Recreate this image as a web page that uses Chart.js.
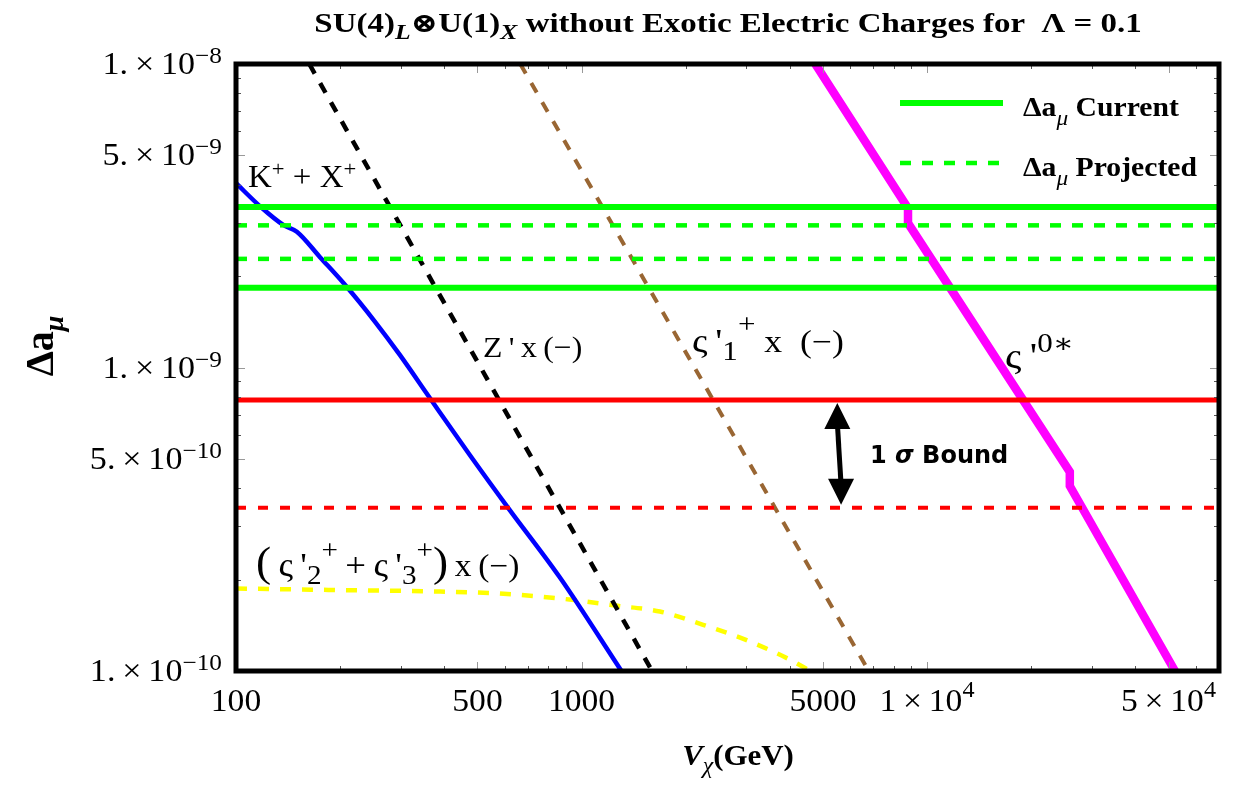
<!DOCTYPE html>
<html>
<head>
<meta charset="utf-8">
<script src="https://cdn.jsdelivr.net/npm/chart.js@4.4.0/dist/chart.umd.min.js"></script>
<style>
  html, body { margin: 0; padding: 0; background: #fff; }
  #wrap { width: 1233px; height: 803px; }
</style>
</head>
<body>
<div id="wrap"><canvas id="chart" width="1233" height="803"></canvas></div>
<script>
// axes ranges and ticks
const xRange = [100, 70000];
const yRange = [1e-10, 1e-8];
const xMajorTicks = [100, 500, 1000, 5000, 10000, 50000];
const xTickLabels = [["100"], ["500"], ["1000"], ["5000"], ["1\u2009×\u200910", "4"], ["5\u2009×\u200910", "4"]];
const xMinorTicks = [200, 300, 400, 600, 700, 800, 900, 2000, 3000, 4000, 6000, 7000, 8000, 9000,
  20000, 30000, 40000, 60000, 70000];
const yMajorTicks = [1e-8, 5e-9, 1e-9, 5e-10, 1e-10];
const yTickLabels = [["1.\u2009×\u200910", "−8"], ["5.\u2009×\u200910", "−9"], ["1.\u2009×\u200910", "−9"],
  ["5.\u2009×\u200910", "−10"], ["1.\u2009×\u200910", "−10"]];
const yMinorTicks = [2e-10, 3e-10, 4e-10, 6e-10, 7e-10, 8e-10, 9e-10, 2e-9, 3e-9, 4e-9, 6e-9, 7e-9, 8e-9, 9e-9];

// horizontal bands (Δa_μ)
const currentBand = [3.38e-9, 1.83e-9];
const projectedBand = [2.94e-9, 2.28e-9];
const sigmaSolid = 7.82e-10;
const sigmaDashed = 3.45e-10;

// K+ + X+ (blue)
const kxV = [100, 118, 137, 150, 175, 207, 252, 298, 364, 475, 620, 864, 1305];
const kxA = [4.05e-9, 3.38e-9, 2.95e-9, 2.80e-9, 2.31e-9, 1.87e-9, 1.42e-9, 1.10e-9, 7.93e-10, 5.15e-10,
  3.39e-10, 2.04e-10, 1.0e-10];
// Z' x(-) (black dashed)
const zV = [163, 1600];
const zA = [1e-8, 1e-10];
// ς'1+ x(-) (brown dashed)
const s1V = [665, 6780];
const s1A = [1e-8, 1e-10];
// ς'0* (magenta)
const s0V = [4750, 8810, 8810, 25900, 25900, 52200];
const s0A = [1e-8, 3.35e-9, 2.99e-9, 4.53e-10, 4.07e-10, 1e-10];
// (ς'2+ + ς'3+) x(-) (yellow dashed)
const s23V = [100, 185, 361, 578, 923, 1273, 1687, 2248, 3021, 3945, 4603];
const s23A = [1.87e-10, 1.85e-10, 1.83e-10, 1.80e-10, 1.72e-10, 1.64e-10, 1.57e-10, 1.42e-10, 1.26e-10, 1.10e-10, 1.0e-10];

// arrow of the 1σ bound
const arrowV = [5500, 5640];

const SERIF = '"Liberation Serif", "DejaVu Serif", serif';
const SANS = '"DejaVu Sans", sans-serif';
function f(size, bold, italic, fam) {
  return (italic ? "italic " : "") + (bold ? "bold " : "") + size + "px " + (fam || SERIF);
}
function pts(xv, yv) { return xv.map((v, i) => ({ x: v, y: yv[i] })); }
function hline(v) { return [{ x: xRange[0], y: v }, { x: xRange[1], y: v }]; }

// texto com sub/sobrescritos (sx = esticamento horizontal)
function drawRich(ctx, parts, x, y, align, sx) {
  sx = sx || 1;
  let w = 0;
  parts.forEach((p) => { ctx.font = p.font; w += ctx.measureText(p.t).width; });
  w *= sx;
  const x0 = align === "center" ? x - w / 2 : align === "right" ? x - w : x;
  ctx.save();
  ctx.translate(x0, y);
  ctx.scale(sx, 1);
  ctx.textAlign = "left";
  ctx.textBaseline = "alphabetic";
  let cx = 0;
  parts.forEach((p) => {
    ctx.font = p.font;
    ctx.fillText(p.t, cx, p.dy || 0);
    cx += ctx.measureText(p.t).width;
  });
  ctx.restore();
}

function line(ctx, x1, y1, x2, y2, color, width, dash) {
  ctx.save();
  ctx.strokeStyle = color;
  ctx.lineWidth = width;
  ctx.setLineDash(dash || []);
  ctx.beginPath();
  ctx.moveTo(x1, y1);
  ctx.lineTo(x2, y2);
  ctx.stroke();
  ctx.restore();
}

function arrowHead(ctx, tx, ty, dir) {
  ctx.beginPath();
  ctx.moveTo(tx, ty);
  ctx.lineTo(tx - 13, ty + dir * 26);
  ctx.lineTo(tx + 13, ty + dir * 26);
  ctx.closePath();
  ctx.fill();
}

const overlay = {
  id: "overlay",
  afterDatasetsDraw(chart) {
    const ctx = chart.ctx;
    const xs = chart.scales.x, ys = chart.scales.y;
    const a = chart.chartArea;
    ctx.save();

    // marcas dos eixos (para dentro, nos quatro lados)
    ctx.lineWidth = 1;
    [[xMajorTicks, 9, "#999"], [xMinorTicks, 5, "#555"]].forEach(([list, len, col]) => {
      ctx.strokeStyle = col;
      list.forEach((v) => {
        const px = Math.round(xs.getPixelForValue(v)) + 0.5;
        ctx.beginPath();
        ctx.moveTo(px, a.bottom); ctx.lineTo(px, a.bottom - len);
        ctx.moveTo(px, a.top); ctx.lineTo(px, a.top + len);
        ctx.stroke();
      });
    });
    [[yMajorTicks, 9, "#999"], [yMinorTicks, 5, "#555"]].forEach(([list, len, col]) => {
      ctx.strokeStyle = col;
      list.forEach((v) => {
        const py = Math.round(ys.getPixelForValue(v)) + 0.5;
        ctx.beginPath();
        ctx.moveTo(a.left, py); ctx.lineTo(a.left + len, py);
        ctx.moveTo(a.right, py); ctx.lineTo(a.right - len, py);
        ctx.stroke();
      });
    });

    // moldura
    ctx.strokeStyle = "#000";
    ctx.lineWidth = 5;
    ctx.strokeRect(a.left, a.top, a.right - a.left, a.bottom - a.top);

    ctx.fillStyle = "#000";
    // rótulos do eixo x
    xMajorTicks.forEach((v, i) => {
      const lab = xTickLabels[i];
      const parts = [{ t: lab[0], font: f(32) }];
      if (lab[1]) parts.push({ t: lab[1], font: f(23), dy: -14 });
      drawRich(ctx, parts, xs.getPixelForValue(v), a.bottom + 40, "center", 1.05);
    });
    // rótulos do eixo y
    yMajorTicks.forEach((v, i) => {
      const lab = yTickLabels[i];
      drawRich(ctx, [{ t: lab[0], font: f(31) }, { t: lab[1], font: f(23), dy: -11 }],
        222, ys.getPixelForValue(v) + 10, "right", 1.1);
    });

    // seta 1σ
    const ax1 = xs.getPixelForValue(arrowV[0]), ax2 = xs.getPixelForValue(arrowV[1]);
    const ay1 = ys.getPixelForValue(sigmaSolid) + 3, ay2 = ys.getPixelForValue(sigmaDashed) - 3;
    line(ctx, ax1, ay1 + 20, ax2, ay2 - 20, "#000", 5);
    arrowHead(ctx, ax1, ay1, 1);
    arrowHead(ctx, ax2, ay2, -1);
    drawRich(ctx, [{ t: "1 ", font: f(24, true, false, SANS) }, { t: "σ", font: f(24, true, true, SANS) },
      { t: " Bound", font: f(24, true, false, SANS) }], 870, 463, "left");

    // rótulos das curvas
    drawRich(ctx, [{ t: "K", font: f(32) }, { t: "+", font: f(22), dy: -11 }, { t: " + X", font: f(32) },
      { t: "+", font: f(22), dy: -11 }], 248, 187, "left", 1.03);
    drawRich(ctx, [{ t: "Z\u2009'\u2009x\u2009(−)", font: f(30) }], 483, 357, "left", 1.06);
    drawRich(ctx, [{ t: "ς\u2009'", font: f(34) }, { t: "1", font: f(27), dy: 8 }, { t: "+", font: f(27), dy: -19 },
      { t: " x  (−)", font: f(31) }], 692, 352, "left", 1.15);
    drawRich(ctx, [{ t: "ς\u2009'", font: f(36) }, { t: "0∗", font: f(27), dy: -16 }], 1005, 368, "left", 1.15);
    drawRich(ctx, [{ t: "(", font: f(42) }, { t: "\u2009ς\u2009'", font: f(34) }, { t: "2", font: f(27), dy: 8 },
      { t: "+", font: f(27), dy: -17 }, { t: "\u2009+\u2009ς\u2009'", font: f(34) }, { t: "3", font: f(27), dy: 8 },
      { t: "+", font: f(27), dy: -17 }, { t: ")", font: f(42) }, { t: "\u2009x\u2009(−)", font: f(31) }],
      256, 576, "left", 1.08);

    // legenda
    line(ctx, 900, 103, 1003, 103, "#00ff00", 6);
    line(ctx, 900, 163, 1003, 163, "#00ff00", 4.5, [11, 11]);
    drawRich(ctx, [{ t: "Δa", font: f(28, true) }, { t: "μ", font: f(22, false, true), dy: 9 },
      { t: " Current", font: f(28, true) }], 1023, 116, "left", 1.06);
    drawRich(ctx, [{ t: "Δa", font: f(28, true) }, { t: "μ", font: f(22, false, true), dy: 9 },
      { t: " Projected", font: f(28, true) }], 1023, 176, "left", 1.06);

    // título
    drawRich(ctx, [{ t: "SU(4)", font: f(27, true) }, { t: "L", font: f(21, true, true), dy: 7 },
      { t: "⊗U(1)", font: f(27, true) }, { t: "X", font: f(21, true, true), dy: 7 },
      { t: " without Exotic Electric Charges for  Λ = 0.1", font: f(27, true) }], 728, 32, "center", 1.22);

    // título do eixo x
    drawRich(ctx, [{ t: "V", font: f(30, true, true) }, { t: "χ", font: f(23, false, true), dy: 8 },
      { t: "(GeV)", font: f(30, true) }], 738, 765, "center", 1.03);

    // título do eixo y
    ctx.save();
    ctx.translate(53, 346);
    ctx.rotate(-Math.PI / 2);
    drawRich(ctx, [{ t: "Δa", font: f(40, true) }, { t: "μ", font: f(28, true, true), dy: 10 }], 0, 0, "center");
    ctx.restore();

    ctx.restore();
  },
};

const ds = (data, color, width, dash, smooth) => ({
  data: data,
  borderColor: color,
  borderWidth: width,
  borderDash: dash || [],
  pointRadius: 0,
  fill: false,
  tension: 0,
  cubicInterpolationMode: smooth ? "monotone" : "default",
});

new Chart(document.getElementById("chart"), {
  type: "line",
  data: {
    datasets: [
      ds(hline(currentBand[0]), "#00ff00", 6),
      ds(hline(currentBand[1]), "#00ff00", 6),
      ds(hline(projectedBand[0]), "#00ff00", 4.5, [11, 11]),
      ds(hline(projectedBand[1]), "#00ff00", 4.5, [11, 11]),
      ds(hline(sigmaSolid), "#ff0000", 5),
      ds(hline(sigmaDashed), "#ff0000", 4, [10, 12]),
      ds(pts(zV, zA), "#000000", 4.5, [11, 11]),
      ds(pts(kxV, kxA), "#0000ff", 4.5, null, true),
      ds(pts(s1V, s1A), "#996633", 4, [11, 11]),
      ds(pts(s23V, s23A), "#ffff00", 4.5, [11, 11], true),
      ds(pts(s0V, s0A), "#ff00ff", 8.5),
    ],
  },
  options: {
    responsive: false,
    animation: false,
    devicePixelRatio: 1,
    layout: { padding: { left: 236, top: 64, right: 14, bottom: 132 } },
    scales: {
      x: { type: "logarithmic", min: xRange[0], max: xRange[1], display: false },
      y: { type: "logarithmic", min: yRange[0], max: yRange[1], display: false },
    },
    plugins: { legend: { display: false }, tooltip: { enabled: false } },
  },
  plugins: [overlay],
});
</script>
</body>
</html>
